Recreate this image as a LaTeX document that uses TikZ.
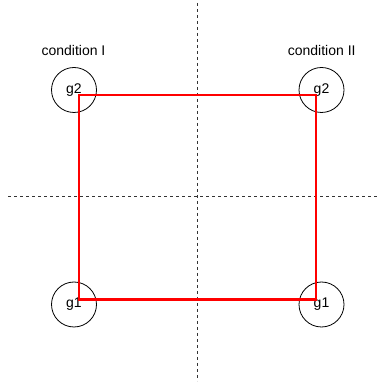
\documentclass[tikz,border=0pt]{standalone}
\usepackage{fontspec}
\setmainfont{Liberation Sans}
\begin{document}
\begin{tikzpicture}[x=1pt,y=1pt,
  gnode/.style={circle,draw=black,line width=0.8pt,minimum size=45pt,inner sep=0pt,font=\fontsize{14}{16}\selectfont},
  condlabel/.style={anchor=base,inner sep=0pt,font=\fontsize{14}{16}\selectfont},
  axisline/.style={draw=black!80,line width=0.8pt,dash pattern=on 3pt off 3pt},
  redbox/.style={draw=red,line width=2.6pt}]
\useasboundingbox (0,0) rectangle (381,385);
\draw[axisline] (197.3,382) coordinate (vt) -- (197.3,4) coordinate (vb);
\draw[axisline] (8,188.7) coordinate (hl) -- (378,188.7) coordinate (hr);
\node[gnode] (g2L) at (74,295) {g2};
\node[gnode] (g2R) at (321.5,295) {g2};
\node[gnode] (g1L) at (74,80.5) {g1};
\node[gnode] (g1R) at (321.5,80.5) {g1};
\node[condlabel] (cI) at (73.5,329.3) {condition I};
\node[condlabel] (cII) at (321.7,329.3) {condition II};
\coordinate (rTL) at ([shift={(5,-5)}]g2L.center);
\coordinate (rTR) at ([shift={(-5.5,-5)}]g2R.center);
\coordinate (rBR) at ([shift={(-5.5,5)}]g1R.center);
\coordinate (rBL) at ([shift={(5,5)}]g1L.center);
\draw[redbox] (rTL) -- (rTR) -- (rBR) -- (rBL) -- cycle;
\end{tikzpicture}
\end{document}
